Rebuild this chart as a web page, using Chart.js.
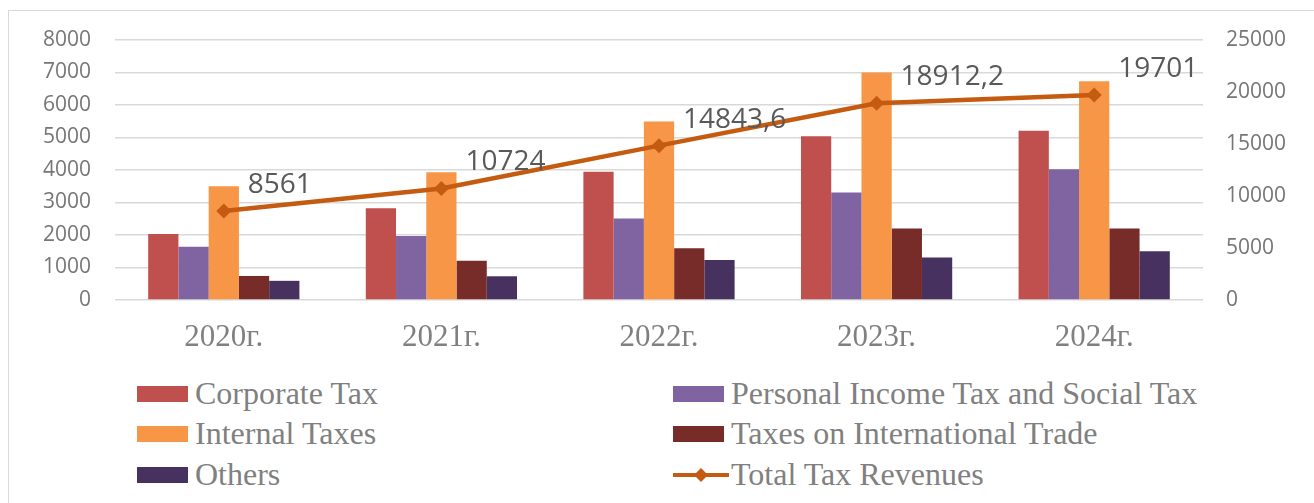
<!DOCTYPE html>
<html>
<head>
<meta charset="utf-8">
<script src="https://cdn.jsdelivr.net/npm/chart.js@4.4.1/dist/chart.umd.min.js"></script>
<style>
  html, body { margin: 0; padding: 0; background: #fff; }
  body { width: 1314px; height: 503px; position: relative; overflow: hidden; }
  #frame { position: absolute; left: 8px; top: 10px; width: 1320px; height: 520px; border: 1px solid #d9d9d9; box-sizing: border-box; }
  #wrap { position: absolute; left: 0; top: 0; width: 1314px; height: 370px; }
  .leg { position: absolute; font-family: "Liberation Serif", "Times New Roman", serif; font-size: 32px; color: #808080; white-space: nowrap; line-height: 1; }
  .leg .box { position: absolute; left: 0; top: 50%; width: 51px; height: 16px; margin-top: -8px; }
  .leg .txt { position: absolute; left: 58px; top: 50%; transform: translateY(-52%); }
  .leg svg { position: absolute; left: 0; top: 50%; margin-top: -10px; }
</style>
</head>
<body>
<div id="frame"></div>
<div id="wrap"><canvas id="c" width="1314" height="370"></canvas></div>
<div id="legend"></div>
<script>
const categories = ["2020г.", "2021г.", "2022г.", "2023г.", "2024г."];
const corporateTax = [2030, 2820, 3950, 5040, 5210];
const personalIncomeSocialTax = [1640, 1970, 2510, 3310, 4020];
const internalTaxes = [3500, 3930, 5490, 7000, 6730];
const internationalTradeTaxes = [740, 1210, 1590, 2200, 2200];
const others = [590, 730, 1230, 1310, 1500];
const totalTaxRevenues = [8561, 10724, 14843.6, 18912.2, 19701];
const totalLabels = ["8561", "10724", "14843,6", "18912,2", "19701"];
const leftTicks = [0, 1000, 2000, 3000, 4000, 5000, 6000, 7000, 8000];
const rightTicks = [0, 5000, 10000, 15000, 20000, 25000];

const names = ["Corporate Tax", "Personal Income Tax and Social Tax", "Internal Taxes", "Taxes on International Trade", "Others", "Total Tax Revenues"];
const colors = ["#C0504D", "#8064A2", "#F79646", "#772C2A", "#47325F", "#C55A11"];

const labelPlugin = {
  id: 'totalLabels',
  afterDatasetsDraw(chart) {
    const meta = chart.getDatasetMeta(5);
    const ctx = chart.ctx;
    ctx.save();
    ctx.font = '28px "Open Sans"';
    ctx.fillStyle = '#595959';
    ctx.textAlign = 'left';
    ctx.textBaseline = 'middle';
    meta.data.forEach((pt, i) => {
      ctx.fillText(totalLabels[i], pt.x + 24, pt.y - 26);
    });
    ctx.restore();
  }
};

const barSets = [corporateTax, personalIncomeSocialTax, internalTaxes, internationalTradeTaxes, others].map((d, i) => ({
  type: 'bar',
  label: names[i],
  data: d,
  backgroundColor: colors[i],
  borderWidth: 0,
  yAxisID: 'y',
  order: 1,
  barPercentage: 1,
  categoryPercentage: 0.695
}));

const lineSet = {
  type: 'line',
  label: names[5],
  data: totalTaxRevenues,
  borderColor: colors[5],
  backgroundColor: colors[5],
  borderWidth: 4.5,
  pointStyle: 'rectRot',
  pointRadius: 7.5,
  pointBorderWidth: 0,
  pointBackgroundColor: colors[5],
  yAxisID: 'y1',
  order: 0,
  tension: 0
};

const plain = v => String(v);

new Chart(document.getElementById('c'), {
  data: { labels: categories, datasets: [...barSets, lineSet] },
  options: {
    responsive: false,
    animation: false,
    events: [],
    layout: { padding: { top: 40, left: 0, right: 0, bottom: 0 } },
    plugins: { legend: { display: false }, tooltip: { enabled: false } },
    scales: {
      x: {
        grid: { display: false, drawTicks: false },
        border: { display: false },
        ticks: { font: { family: '"Liberation Serif", serif', size: 31 }, color: '#808080', padding: 19 },
        afterFit(s) { s.height = 70; }
      },
      y: {
        position: 'left', min: 0, max: 8000,
        afterBuildTicks(s) { s.ticks = leftTicks.map(v => ({ value: v })); },
        grid: { color: '#d9d9d9', lineWidth: 1.5, drawTicks: false },
        border: { display: false },
        ticks: { font: { family: '"Open Sans"', size: 21 }, color: '#767676', padding: 24, callback: plain },
        afterFit(s) { s.width = 115; }
      },
      y1: {
        position: 'right', min: 0, max: 25000,
        afterBuildTicks(s) { s.ticks = rightTicks.map(v => ({ value: v })); },
        grid: { display: false, drawTicks: false },
        border: { display: false },
        ticks: { font: { family: '"Open Sans"', size: 21 }, color: '#767676', padding: 23, callback: plain },
        afterFit(s) { s.width = 111; }
      }
    }
  },
  plugins: [labelPlugin]
});

// HTML legend in two columns
const legendPos = [
  [137, 394], [673, 394],
  [137, 434], [673, 434],
  [137, 475], [673, 475]
];
const legendEl = document.getElementById('legend');
names.forEach((n, i) => {
  const d = document.createElement('div');
  d.className = 'leg';
  d.style.left = legendPos[i][0] + 'px';
  d.style.top = (legendPos[i][1] - 20) + 'px';
  d.style.height = '40px';
  d.style.width = '560px';
  if (i === 5) {
    d.innerHTML = '<svg width="56" height="20"><line x1="1" y1="10" x2="55" y2="10" stroke="' + colors[5] + '" stroke-width="4" stroke-linecap="round"/><polygon points="28,3 35,10 28,17 21,10" fill="' + colors[5] + '"/></svg><span class="txt">' + n + '</span>';
  } else {
    d.innerHTML = '<span class="box" style="background:' + colors[i] + '"></span><span class="txt">' + n + '</span>';
  }
  legendEl.appendChild(d);
});
</script>
</body>
</html>
